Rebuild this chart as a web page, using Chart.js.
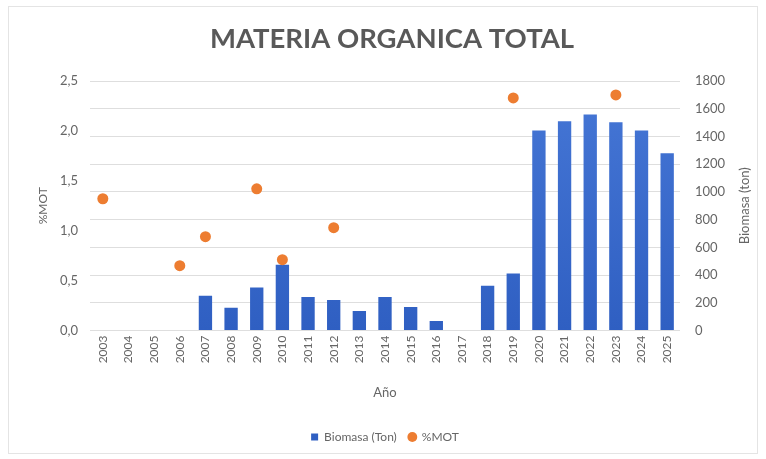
<!DOCTYPE html>
<html>
<head>
<meta charset="utf-8">
<script src="https://cdn.jsdelivr.net/npm/chart.js@4.4.1/dist/chart.umd.min.js"></script>
<style>
  html, body { margin: 0; padding: 0; background: #fff; }
  #wrap { position: relative; width: 766px; height: 459px; }
  #frame { position: absolute; left: 8px; top: 6px; width: 748px; height: 446px;
           border: 1px solid #e4e4e4; pointer-events: none; }
</style>
</head>
<body>
<div id="wrap">
  <canvas id="chart" width="766" height="459"></canvas>
  <div id="frame"></div>
</div>
<script>
// datos
const years = ['2003','2004','2005','2006','2007','2008','2009','2010','2011','2012','2013','2014',
               '2015','2016','2017','2018','2019','2020','2021','2022','2023','2024','2025'];
const biomasa = [null, null, null, null, 250, 165, 310, 475, 242, 220, 141, 242,
                 170, 69, null, 322, 411, 1443, 1510, 1558, 1503, 1443, 1278];
const mot = [1.32, null, null, 0.65, 0.94, null, 1.42, 0.71, null, 1.03, null, null,
             null, null, null, null, 2.33, null, null, null, 2.36, null, null];
const motTicks = [0, 0.5, 1.0, 1.5, 2.0, 2.5];
const biomasaTicks = [0, 200, 400, 600, 800, 1000, 1200, 1400, 1600, 1800];

const FONT = 'Lato';
const GREY = '#666666';

// titulo del eje derecho (se lee de abajo hacia arriba)
const rightTitle = {
  id: 'rightTitle',
  afterDraw(chart) {
    const { ctx, chartArea } = chart;
    ctx.save();
    ctx.translate(745, (chartArea.top + chartArea.bottom) / 2);
    ctx.rotate(-Math.PI / 2);
    ctx.font = '13px ' + FONT;
    ctx.fillStyle = GREY;
    ctx.textAlign = 'center';
    ctx.textBaseline = 'middle';
    ctx.fillText('Biomasa (ton)', 0, 0);
    ctx.restore();
  }
};

function barGradient(ctx) {
  const area = ctx.chart.chartArea;
  if (!area) return '#3a6bcc';
  const g = ctx.chart.ctx.createLinearGradient(0, area.top, 0, area.bottom);
  g.addColorStop(0, '#4677d6');
  g.addColorStop(1, '#2f5fc2');
  return g;
}

new Chart(document.getElementById('chart'), {
  type: 'bar',
  data: {
    labels: years,
    datasets: [
      {
        label: 'Biomasa (Ton)',
        data: biomasa,
        yAxisID: 'y1',
        backgroundColor: barGradient,
        pointStyle: 'rect',
        barPercentage: 0.52,
        categoryPercentage: 1,
        order: 2
      },
      {
        type: 'line',
        label: '%MOT',
        data: mot,
        yAxisID: 'y',
        showLine: false,
        pointStyle: 'circle',
        pointRadius: 5.5,
        pointHoverRadius: 5.5,
        backgroundColor: '#ed7d31',
        borderColor: '#ed7d31',
        borderWidth: 0,
        order: 1
      }
    ]
  },
  options: {
    responsive: false,
    animation: false,
    layout: { padding: { left: 18, right: 0, top: 0, bottom: 6 } },
    plugins: {
      title: {
        display: true,
        text: 'MATERIA ORGANICA TOTAL',
        color: '#595959',
        font: { family: FONT, size: 27.5, weight: 'bold' },
        padding: { top: 23, bottom: 25 }
      },
      legend: {
        position: 'bottom',
        fullSize: false,
        labels: {
          usePointStyle: true,
          boxWidth: 7,
          boxHeight: 7,
          padding: 12,
          color: GREY,
          font: { family: FONT, size: 12 },
          sort: (a, b) => a.datasetIndex - b.datasetIndex
        }
      },
      tooltip: { enabled: false }
    },
    scales: {
      x: {
        grid: { display: false, drawTicks: false },
        border: { display: false },
        ticks: { color: GREY, font: { family: FONT, size: 12 }, maxRotation: 90, minRotation: 90, padding: 5 },
        title: { display: true, text: 'Año', color: GREY, font: { family: FONT, size: 13 }, padding: { top: 0, bottom: 18 } },
        afterFit: s => { s.height = 88.5; }
      },
      y: {
        position: 'left',
        min: 0, max: 2.5,
        afterBuildTicks: s => { s.ticks = motTicks.map(v => ({ value: v })); },
        grid: { display: false, drawTicks: false },
        border: { display: false },
        ticks: { color: GREY, font: { family: FONT, size: 13 }, padding: 12,
                 callback: v => v.toFixed(1).replace('.', ',') },
        title: { display: true, text: '%MOT', color: GREY, font: { family: FONT, size: 12 }, padding: { top: 17.5 } },
        afterFit: s => { s.width = 72; }
      },
      y1: {
        position: 'right',
        min: 0, max: 1800,
        afterBuildTicks: s => { s.ticks = biomasaTicks.map(v => ({ value: v })); },
        grid: { color: '#dedede', drawTicks: false },
        border: { display: false },
        ticks: { color: GREY, font: { family: FONT, size: 13 }, padding: 15, callback: v => String(v) },
        afterFit: s => { s.width = 86; }
      }
    }
  },
  plugins: [rightTitle]
});
</script>
</body>
</html>
